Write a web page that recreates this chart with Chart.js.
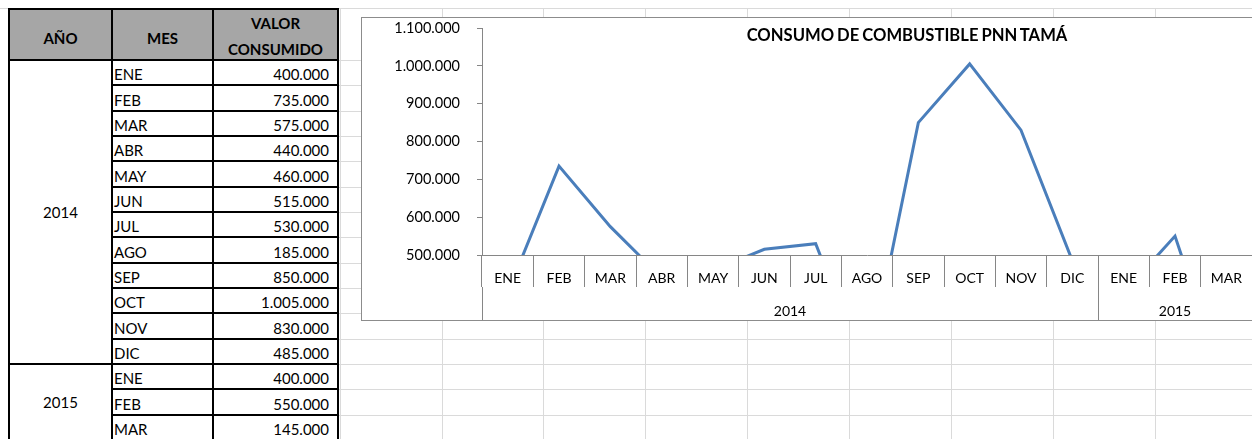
<!DOCTYPE html>
<html>
<head>
<meta charset="utf-8">
<script src="https://cdn.jsdelivr.net/npm/chart.js@4.4.1/dist/chart.umd.min.js"></script>
<style>
html,body{margin:0;padding:0;width:1252px;height:439px;overflow:hidden;background:#fff;}
.gl{position:absolute;background:#dadada;}
.cell{position:absolute;box-sizing:border-box;border:2px solid #000;font-family:Lato,"Open Sans",sans-serif;font-size:15px;color:#000;line-height:18px;display:flex;background:#fff;white-space:nowrap;}
.hdr{background:#a6a6a6;font-weight:bold;justify-content:center;text-align:center;}
#frame{position:absolute;left:361px;top:17px;width:1000px;height:302px;border:1px solid #8c8c8c;background:#fff;}
#chart{position:absolute;left:0;top:0;}
#title{position:absolute;left:907px;top:25px;transform:translateX(-50%);font-family:Lato,sans-serif;font-weight:bold;font-size:16.6px;line-height:20px;color:#000;white-space:nowrap;word-spacing:-1px;}
</style>
</head>
<body>
<div id="sheet"></div>
<div id="frame"><canvas id="chart" width="890" height="302"></canvas></div>
<div id="title">CONSUMO DE COMBUSTIBLE PNN TAMÁ</div>
<script>
// ---- data ----
const chartTitle = 'CONSUMO DE COMBUSTIBLE PNN TAMÁ';
const headers = ['AÑO', 'MES', 'VALOR<br>CONSUMIDO'];
const yearLabels = ['2014', '2015'];
const monthsPerYear = [12, 3];
const months = ['ENE','FEB','MAR','ABR','MAY','JUN','JUL','AGO','SEP','OCT','NOV','DIC','ENE','FEB','MAR'];
const values = [400000, 735000, 575000, 440000, 460000, 515000, 530000, 185000, 850000, 1005000, 830000, 485000, 400000, 550000, 145000];
const yMin = 500000, yMax = 1100000, yStep = 100000;

function fmt(v){ return String(v).replace(/\B(?=(\d{3})+(?!\d))/g, '.'); }

// ---- spreadsheet background grid ----
const sheet = document.getElementById('sheet');
const rowPitch = 25.33, headTop = 9, headBottom = 60;
const rowY = k => Math.round(headBottom + rowPitch * k);
function line(x, y, w, h){ const d=document.createElement('div'); d.className='gl'; d.style.left=x+'px'; d.style.top=y+'px'; d.style.width=w+'px'; d.style.height=h+'px'; sheet.appendChild(d); }
line(0, 8, 1252, 1);
for (let k = 0; k <= 16; k++) line(338, rowY(k), 914, 1);
[340, 442, 543, 645, 747, 849, 951, 1053, 1155].forEach(x => line(x, 8, 1, 431));

// ---- table ----
const colX = [9, 112, 213, 338];
function cell(x0, y0, x1, y1, html, cls, style){
  const d = document.createElement('div');
  d.className = 'cell ' + (cls || '');
  d.style.left = (x0 - 1) + 'px'; d.style.top = (y0 - 1) + 'px';
  d.style.width = (x1 - x0 + 2) + 'px'; d.style.height = (y1 - y0 + 2) + 'px';
  if (style) Object.assign(d.style, style);
  d.innerHTML = html;
  sheet.appendChild(d);
}
cell(colX[0], headTop, colX[1], headBottom, headers[0], 'hdr', {alignItems:'flex-start', paddingTop:'19px'});
cell(colX[1], headTop, colX[2], headBottom, headers[1], 'hdr', {alignItems:'flex-start', paddingTop:'19px'});
cell(colX[2], headTop, colX[3], headBottom, headers[2], 'hdr', {alignItems:'flex-start', paddingTop:'0px', lineHeight:'26px'});
let idx = 0;
yearLabels.forEach((yr, g) => {
  const n = monthsPerYear[g];
  cell(colX[0], rowY(idx), colX[1], rowY(idx + n), yr, '', {alignItems:'center', justifyContent:'center'});
  for (let j = 0; j < n; j++) {
    const k = idx + j;
    cell(colX[1], rowY(k), colX[2], rowY(k + 1), months[k], '', {alignItems:'flex-end', paddingLeft:'1px', paddingBottom:'1px'});
    cell(colX[2], rowY(k), colX[3], rowY(k + 1), fmt(values[k]), '', {alignItems:'flex-end', justifyContent:'flex-end', paddingRight:'8px', paddingBottom:'1px'});
  }
  idx += n;
});

// ---- chart ----
const groupBounds = [0];
monthsPerYear.forEach(n => groupBounds.push(groupBounds[groupBounds.length - 1] + n));
const groupCenters = yearLabels.map((y, g) => (groupBounds[g] + groupBounds[g + 1]) / 2);
const groupTicks = groupBounds.concat(groupCenters).sort((a, b) => a - b);

const axisColor = '#868686';
const tickFont = {family: 'Lato', size: 14};

new Chart(document.getElementById('chart'), {
  type: 'line',
  data: {
    labels: months,
    datasets: [{
      data: values,
      borderColor: '#4a7ebb',
      borderWidth: 3,
      pointRadius: 0,
      pointHoverRadius: 0,
      tension: 0,
      fill: false,
      borderJoinStyle: 'miter',
      clip: 0
    }]
  },
  options: {
    responsive: false,
    animation: false,
    events: [],
    layout: {padding: {top: 10, right: 0, bottom: 0, left: 0}},
    plugins: {legend: {display: false}, tooltip: {enabled: false}, title: {display: false}},
    scales: {
      x: {
        type: 'category', position: 'bottom', weight: 0, offset: true,
        grid: {offset: true, drawOnChartArea: false, drawTicks: true, tickLength: 32, color: axisColor, lineWidth: 1},
        border: {display: true, color: axisColor, width: 1},
        ticks: {autoSkip: false, maxRotation: 0, minRotation: 0, padding: -17, color: '#000', font: tickFont},
        afterFit: s => { s.height = 32; s.paddingLeft = 0; s.paddingRight = 0; }
      },
      x2: {
        type: 'linear', position: 'bottom', weight: 1, min: 0, max: months.length,
        afterBuildTicks: s => { s.ticks = groupTicks.map(v => ({value: v})); },
        grid: {drawOnChartArea: false, drawTicks: true, tickLength: 33, lineWidth: 1,
               color: c => (c.tick && groupBounds.includes(c.tick.value)) ? axisColor : 'rgba(0,0,0,0)'},
        border: {display: false},
        ticks: {autoSkip: false, maxRotation: 0, minRotation: 0, padding: -17, color: '#000', font: tickFont,
                callback: v => { const g = groupCenters.indexOf(v); return g >= 0 ? yearLabels[g] : ''; }},
        afterFit: s => { s.height = 33; s.paddingLeft = 0; s.paddingRight = 0; }
      },
      y: {
        position: 'left', min: yMin, max: yMax,
        grid: {drawOnChartArea: false, drawTicks: true, tickLength: 5, color: axisColor},
        border: {display: true, color: axisColor},
        ticks: {stepSize: yStep, padding: 17, color: '#000', font: {family: 'Lato', size: 14.5}, callback: v => fmt(v)},
        afterFit: s => { s.width = 120; s.paddingTop = 0; s.paddingBottom = 0; }
      }
    }
  }
});
</script>
</body>
</html>
